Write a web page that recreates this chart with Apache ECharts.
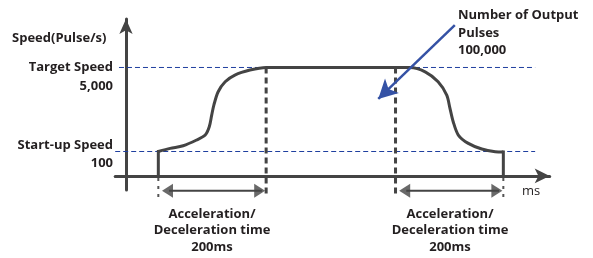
<!DOCTYPE html>
<html>
<head>
<meta charset="utf-8">
<script src="https://cdn.jsdelivr.net/npm/echarts@6/dist/echarts.min.js"></script>
<style>
  html, body { margin: 0; padding: 0; background: #fff; }
  #main { width: 593px; height: 258px; }
</style>
</head>
<body>
<div id="main"></div>
<script>
// time (ms) and drawn speed level (target speed = 100, schematic)
var accelTime  = [60, 82, 106, 131, 147, 154.5, 159, 163, 171, 184, 202, 230, 260];
var accelLevel = [22.5, 25.4, 27.8, 33.1, 37.7, 45.3, 56.1, 65.3, 77.6, 86.8, 93, 97.6, 100];
var decelTime  = [500, 527, 555, 579, 595, 601, 607, 616.5, 635, 660, 685, 700];
var decelLevel = [100, 100, 96, 86.8, 74.5, 62.3, 50, 37.7, 30, 24.8, 22.3, 22];

var startTime = 60, accelEnd = 260, decelStart = 500, stopTime = 700;
var startLevel = 22.5, targetLevel = 100;
var speedLabels = ['Start-up Speed', '100', 'Target Speed', '5,000'];

var chart = echarts.init(document.getElementById('main'));

var profile = [];
accelTime.forEach(function (t, i) { profile.push([t, accelLevel[i]]); });
decelTime.forEach(function (t, i) { profile.push([t, decelLevel[i]]); });

var dark = '#444444';
var blue = '#1f3f9f';
var txt = '#231f20';
var font = '"Open Sans", sans-serif';
var spanY = -13.8;

function label(str, x, y, align, weight) {
  return {
    type: 'text', x: x, y: y,
    style: {
      text: str, fill: txt, font: (weight || 'bold') + ' 13px ' + font,
      align: align || 'left', verticalAlign: 'middle'
    }
  };
}

function vline(t, from, to, style) {
  return {
    type: 'line', symbol: 'none', clip: false, silent: true,
    lineStyle: style, data: [[t, from], [t, to]]
  };
}

var option = {
  animation: false,
  grid: { left: 115.2, right: 43.3, top: 19, bottom: 68 },
  xAxis: {
    type: 'value', min: -20, max: 786,
    axisLine: { onZero: true, symbol: ['none', 'arrow'], symbolSize: [11, 15],
      lineStyle: { color: dark, width: 3 } },
    axisTick: { show: false }, axisLabel: { show: false }, splitLine: { show: false }
  },
  yAxis: {
    type: 'value', min: -13, max: 144.7,
    axisLine: { show: true, onZero: true, symbol: ['none', 'arrow'], symbolSize: [10, 15],
      lineStyle: { color: dark, width: 3 } },
    axisTick: { show: false }, axisLabel: { show: false }, splitLine: { show: false }
  },
  series: [
    { // reference lines
      type: 'line', symbol: 'none', silent: true, color: blue,
      lineStyle: { color: blue, width: 1, type: [5, 3] },
      data: [[-13, targetLevel], [759, targetLevel]]
    },
    {
      type: 'line', symbol: 'none', silent: true, color: blue,
      lineStyle: { color: blue, width: 1, type: [5, 3] },
      data: [[-20, startLevel], [759, startLevel]]
    },
    // accel end / decel start markers
    vline(accelEnd, targetLevel, -19.4, { color: dark, width: 3, type: [6, 4] }),
    vline(decelStart, targetLevel, -19.4, { color: dark, width: 3, type: [6, 4] }),
    vline(startTime, -2, -19.4, { color: '#555', width: 2, type: [3, 5] }),
    vline(stopTime, -2, -19.4, { color: '#555', width: 2, type: [3, 5] }),
    { // speed profile
      type: 'line', symbol: 'none', smooth: 0.3,
      lineStyle: { color: dark, width: 3, join: 'round' },
      data: profile
    },
    {
      type: 'line', symbol: 'none',
      lineStyle: { color: dark, width: 3, cap: 'square' },
      data: [[startTime, 0], [startTime, startLevel]]
    },
    {
      type: 'line', symbol: 'none',
      lineStyle: { color: dark, width: 3, cap: 'square' },
      data: [[stopTime, decelLevel[decelLevel.length - 1]], [stopTime, 0]]
    },
    { // time span shafts
      type: 'line', symbol: 'none', clip: false, silent: true,
      lineStyle: { color: dark, width: 2 },
      data: [[startTime + 20, spanY], [accelEnd - 8, spanY]]
    },
    {
      type: 'line', symbol: 'none', clip: false, silent: true,
      lineStyle: { color: dark, width: 2 },
      data: [[decelStart + 20, spanY], [stopTime - 8, spanY]]
    },
    { // span arrow heads
      type: 'scatter', clip: false, silent: true,
      symbol: 'triangle', symbolSize: [14, 11],
      itemStyle: { color: dark },
      data: [
        { value: [startTime + 17, spanY], symbolRotate: 90 },
        { value: [accelEnd - 12, spanY], symbolRotate: -90 },
        { value: [decelStart + 17, spanY], symbolRotate: 90 },
        { value: [stopTime - 12, spanY], symbolRotate: -90 }
      ]
    },
    { // output pulses pointer
      type: 'line', symbol: 'none', data: [], silent: true,
      markLine: {
        silent: true, animation: false,
        label: { show: false },
        emphasis: { disabled: true },
        symbol: ['none', 'arrow'], symbolSize: [15, 19],
        lineStyle: { color: '#3552a5', width: 2.5, type: 'solid' },
        data: [[{ coord: [610, 139] }, { coord: [468, 71] }]]
      }
    }
  ],
  graphic: [
    label('Speed(Pulse/s)', 12, 38),
    label(speedLabels[2], 113, 67, 'right'),
    label(speedLabels[3], 113, 86, 'right'),
    label(speedLabels[0], 113, 145, 'right'),
    label(speedLabels[1], 113, 163, 'right'),
    label('Number of Output', 458, 15),
    label('Pulses', 458, 33),
    label('100,000', 458, 50),
    label('ms', 522, 191, 'left', 'normal'),
    label('Acceleration/', 212, 214, 'center'),
    label('Deceleration time', 212, 230.5, 'center'),
    label('200ms', 212, 247, 'center'),
    label('Acceleration/', 450, 214, 'center'),
    label('Deceleration time', 450, 230.5, 'center'),
    label('200ms', 450, 247, 'center')
  ]
};

chart.setOption(option);
</script>
</body>
</html>
